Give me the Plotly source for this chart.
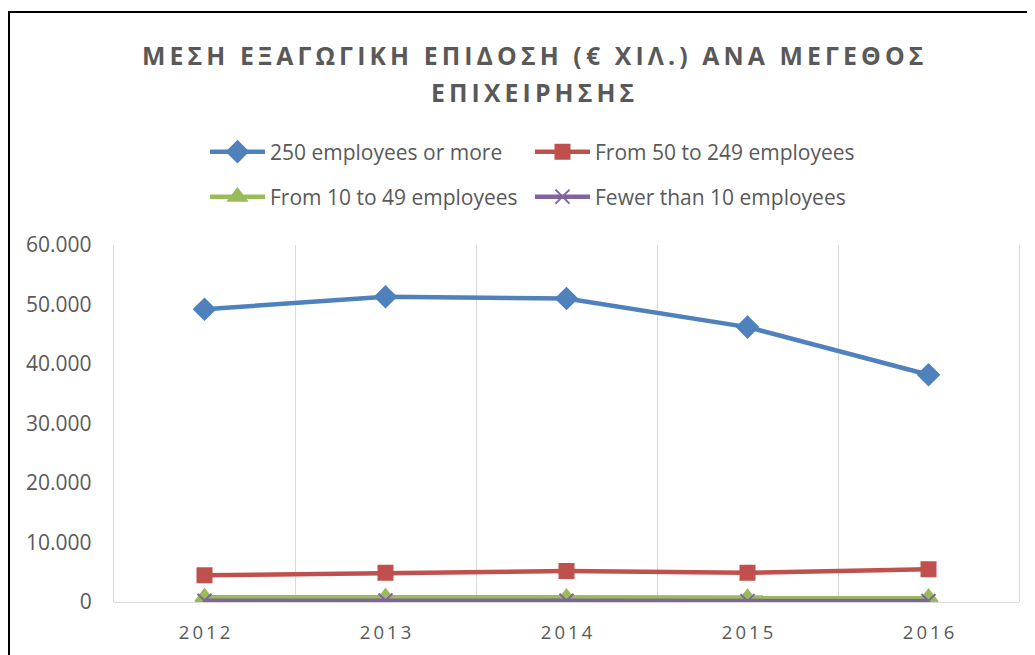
import plotly.graph_objects as go

years = [2012, 2013, 2014, 2015, 2016]
year_labels = ["2012", "2013", "2014", "2015", "2016"]
s_250 = [49200, 51300, 51000, 46200, 38200]
s_50_249 = [4500, 4900, 5200, 4900, 5500]
s_10_49 = [800, 800, 750, 700, 750]
s_lt10 = [200, 250, 200, 150, 180]

names = ["250 employees or more", "From 50 to 249 employees",
         "From 10 to 49 employees", "Fewer than 10 employees"]
title_l1 = "ΜΕΣΗ ΕΞΑΓΩΓΙΚΗ ΕΠΙΔΟΣΗ (€ ΧΙΛ.) ΑΝΑ ΜΕΓΕΘΟΣ"
title_l2 = "ΕΠΙΧΕΙΡΗΣΗΣ"

TS = "\u2009"
def spaced(s, sep=TS):
    return sep.join(list(s))

fig = go.Figure()
styles = [
    (s_250, "#4F81BD", "diamond", 16, "legend"),
    (s_50_249, "#C0504D", "square", 14, "legend"),
    (s_10_49, "#9BBB59", "triangle-up", 16, "legend2"),
    (s_lt10, "#8064A2", "x-thin", 14, "legend2"),
]
for (vals, col, sym, sz, lg), nm in zip(styles, names):
    fig.add_trace(go.Scatter(
        x=years, y=vals, name=nm, mode="lines+markers",
        line=dict(color=col, width=4.5),
        marker=dict(symbol=sym, size=sz, color=col,
                    line=dict(color=col, width=2)),
        legend=lg,
    ))

OFF = 8  # page body margin
W, H = 1035, 655
L, R, T, B = 114 - OFF, 1019 - OFF, 245 - OFF, 602 - OFF
pw, ph = R - L, B - T
def px(x): return (x - OFF - L) / pw
def py(y): return (B - (y - OFF)) / ph

fig.update_layout(
    width=W, height=H,
    margin=dict(l=L, r=W - R, t=T, b=H - B),
    paper_bgcolor="white", plot_bgcolor="white",
    separators=",.",
    font=dict(family="Open Sans, Liberation Sans, sans-serif", color="#595959"),
    legend=dict(orientation="h", x=px(205), xanchor="left",
                y=py(152), yanchor="middle", entrywidth=255, itemwidth=55,
                font=dict(size=21, color="#595959"), bgcolor="rgba(0,0,0,0)"),
    legend2=dict(orientation="h", x=px(205), xanchor="left",
                 y=py(197), yanchor="middle", entrywidth=255, itemwidth=55,
                 font=dict(size=21, color="#595959"), bgcolor="rgba(0,0,0,0)"),
    xaxis=dict(
        range=[2011.5, 2016.5], tickvals=years,
        ticktext=[spaced(t) for t in year_labels],
        showgrid=False, zeroline=False, showline=False,
        tickfont=dict(size=18.5, color="#595959"), ticks="",
        ticklabelstandoff=17,
        minor=dict(tickvals=[2012.5, 2013.5, 2014.5, 2015.5],
                   showgrid=True, gridcolor="#D9D9D9", gridwidth=1.3, ticks=""),
    ),
    yaxis=dict(
        range=[0, 60000], dtick=10000, tickformat=",d",
        showgrid=False, zeroline=True, zerolinecolor="#D9D9D9", zerolinewidth=1.3,
        showline=True, mirror=True, linecolor="#D9D9D9", linewidth=1.3, ticks="",
        tickfont=dict(size=21, color="#595959"), ticklabelstandoff=17,
    ),
    showlegend=True,
)

for txt, yy in [(title_l1, 55), (title_l2, 92)]:
    fig.add_annotation(
        text=spaced(txt), xref="paper", yref="paper",
        x=px(532), y=py(yy), xanchor="center", yanchor="middle",
        showarrow=False,
        font=dict(size=24.8, color="#595959", weight="bold",
                  family="Open Sans, sans-serif"),
    )

# outer chart frame (left edge sits at the page's left edge of the figure)
fig.add_shape(type="rect", xref="paper", yref="paper",
              x0=(1 - L) / pw, x1=px(1045), y0=py(665), y1=py(12),
              line=dict(color="black", width=2), fillcolor="rgba(0,0,0,0)",
              layer="above")

fig.write_html("out.html")
